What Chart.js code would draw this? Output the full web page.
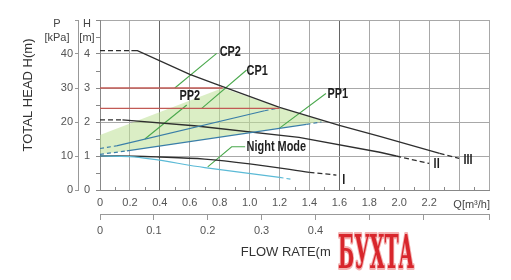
<!DOCTYPE html>
<html><head><meta charset="utf-8">
<script src="https://cdn.jsdelivr.net/npm/chart.js@4.4.1/dist/chart.umd.min.js"></script>
<style>html,body{margin:0;padding:0;background:#fff;}canvas{display:block;}</style>
</head><body>
<canvas id="c" width="511" height="280"></canvas>
<script>
// ---- data (Q in m3/h, H in m) ----
const curveIIIdashStart = [[0,4.1],[0.21,4.1]];
const curveIII = [[0.21,4.1],[0.25,4.1],[0.6,3.4],[0.77,3.12],[1.2,2.43],[1.6,1.9],[1.87,1.58],[2.27,1.08]];
const curveIIIdashEnd = [[2.27,1.08],[2.4,0.93]];
const curveIIdashStart = [[0,2.06],[0.15,2.06]];
const curveII = [[0.15,2.06],[0.63,1.89],[1.33,1.55],[1.87,1.11],[1.98,1.0]];
const curveIIdashEnd = [[1.98,1.0],[2.2,0.78]];
const curveI = [[0,1.0],[0.12,1.0],[0.4,0.97],[0.7,0.91],[1.0,0.77],[1.4,0.52]];
const curveIdashEnd = [[1.4,0.52],[1.58,0.44]];
const nightMode = [[0,1.0],[0.2,0.98],[0.7,0.66],[1.2,0.37]];
const nightModeDashEnd = [[1.2,0.37],[1.29,0.31]];
const pp2DashStart = [[0,1.22],[0.11,1.3]];
const pp2 = [[0.11,1.3],[1.1,2.33]];
const pp2DashEnd = [[1.1,2.33],[1.2,2.42]];
const pp1DashStart = [[0,1.05],[0.18,1.15]];
const pp1 = [[0.18,1.15],[1.38,1.93]];
const pp1DashEnd = [[1.38,1.93],[1.48,2.0]];
const cp2 = [[0,3.0],[0.82,3.0]];
const cp1 = [[0,2.4],[1.2,2.4]];
const ppZone = [[0,1.62],[0.82,3.0],[1.2,2.43],[1.5,2.02],[0.18,1.15],[0,1.05]];
// leader lines from labels to curves
const leaderCP2 = [[0.78,4.02],[0.5,3.0]];
const leaderCP1 = [[0.98,3.53],[0.68,2.4]];
const leaderPP2 = [[0.58,2.5],[0.3,1.5]];
const leaderPP1 = [[1.51,2.84],[1.2,1.82]];
const leaderNight = [[0.97,1.27],[0.88,1.27],[0.72,0.68]];
// labels: [text, Q, H, align]
const curveLabels = [["CP2",0.8,4.05,"left"],["CP1",0.98,3.5,"left"],["PP2",0.6,2.77,"center"],["PP1",1.52,2.82,"left"],["Night Mode",0.98,1.26,"left"],["I",1.63,0.29,"center"],["II",2.25,0.77,"center"],["III",2.46,0.88,"center"]];
// axis ranges / ticks
const qMax = 2.6, hMax = 5, pMax = 50;
const qLabelMax = 2.2, lsLabelMax = 0.4;

const pts = a => a.map(p => ({x:p[0], y:p[1]}));
const C = {black:'#2e2e2e', red:'#c25a55', blue:'#3a7ea8', cyan:'#5bbad6', green:'#4aa84c'};
function ln(data, color, width, dash, order, smooth){
  const d = {data:pts(data), borderColor:color, borderWidth:width, borderDash:dash||[], pointRadius:0, fill:false, tension:0, order:order||1};
  if (smooth) d.cubicInterpolationMode = 'monotone';
  return d;
}
const datasets = [
  {data:pts(ppZone), borderWidth:0, pointRadius:0, fill:'shape', backgroundColor:'rgba(190,224,150,0.55)', order:10},
  ln(cp2, C.red, 1.3), ln(cp1, C.red, 1.3),
  ln(pp2DashStart, C.blue, 1.2, [4,3]), ln(pp2, C.blue, 1.2), ln(pp2DashEnd, C.blue, 1.2, [4,3]),
  ln(pp1DashStart, C.blue, 1.2, [4,3]), ln(pp1, C.blue, 1.2), ln(pp1DashEnd, C.blue, 1.2, [4,3]),
  ln(nightMode, C.cyan, 1.2, [], 1, true), ln(nightModeDashEnd, C.cyan, 1.2, [4,3]),
  ln(curveIIIdashStart, C.black, 1.3, [5,3]), ln(curveIII, C.black, 1.3), ln(curveIIIdashEnd, C.black, 1.3, [5,3]),
  ln(curveIIdashStart, C.black, 1.3, [5,3]), ln(curveII, C.black, 1.3), ln(curveIIdashEnd, C.black, 1.3, [5,3]),
  ln(curveI, C.black, 1.3, [], 1, true), ln(curveIdashEnd, C.black, 1.3, [5,3]),
  ln(leaderCP2, C.green, 1.1, [], 0), ln(leaderCP1, C.green, 1.1, [], 0), ln(leaderPP2, C.green, 1.1, [], 0),
  ln(leaderPP1, C.green, 1.1, [], 0), ln(leaderNight, C.green, 1.1, [], 0)
];

const near = (v, t) => Math.abs(v - t) < 1e-6;
const tickFont = {family:'"Liberation Sans", Arial, sans-serif', size:11};
const tickCol = '#555';

const extras = {
  id:'extras',
  afterDraw(chart){
    const ctx = chart.ctx, xs = chart.scales.x, ys = chart.scales.y, ca = chart.chartArea;
    ctx.save();
    // minor ticks at 0.1 on Q axis
    ctx.strokeStyle = '#888'; ctx.lineWidth = 1;
    for (let i = 1; i < 26; i += 2){
      const px = Math.round(xs.getPixelForValue(i/10)) + 0.5;
      ctx.beginPath(); ctx.moveTo(px, ca.bottom); ctx.lineTo(px, ca.bottom - 3); ctx.stroke();
    }
    // header texts
    ctx.fillStyle = '#444'; ctx.font = '11px "Liberation Sans", Arial, sans-serif';
    ctx.textAlign = 'center'; ctx.textBaseline = 'middle';
    ctx.fillText('P', 57, 24); ctx.fillText('[kPa]', 57, 38);
    ctx.fillText('H', 87, 24); ctx.fillText('[m]', 87, 38);
    // Q unit label
    ctx.textAlign = 'right';
    ctx.fillText('Q[m³/h]', ca.right + 1, 205);
    // axis titles
    ctx.fillStyle = '#333'; ctx.font = '13px "Liberation Sans", Arial, sans-serif';
    ctx.textAlign = 'center';
    ctx.fillText('FLOW RATE(m³/h)', (ca.left + ca.right) / 2 + 1, 252);
    ctx.save(); ctx.translate(28, 95); ctx.rotate(-Math.PI/2);
    ctx.fillText('TOTAL HEAD H(m)', 0, 0); ctx.restore();
    // curve labels (condensed bold)
    ctx.fillStyle = '#1e1e1e';
    ctx.font = 'bold 14px "Liberation Sans", Arial, sans-serif';
    const sx = 0.78;
    curveLabels.forEach(l => {
      const px = xs.getPixelForValue(l[1]), py = ys.getPixelForValue(l[2]);
      ctx.save(); ctx.translate(px, py); ctx.scale(sx, 1);
      ctx.textAlign = l[3]; ctx.fillText(l[0], 0, 0); ctx.restore();
    });
    // watermark
    ctx.fillStyle = '#fff'; ctx.fillRect(331, 232, 85, 40);
    ctx.font = 'bold 46px "DejaVu Serif", serif';
    const w = ctx.measureText('БУХТА').width;
    ctx.translate(338, 268); ctx.scale(76 / w, 1);
    ctx.textAlign = 'left'; ctx.textBaseline = 'alphabetic';
    ctx.lineJoin = 'round';
    ctx.strokeStyle = '#f3b0b0'; ctx.lineWidth = 4; ctx.strokeText('БУХТА', 0, 0);
    ctx.fillStyle = '#d8262c'; ctx.fillText('БУХТА', 0, 0);
    ctx.restore();
  }
};

new Chart(document.getElementById('c'), {
  type:'line',
  data:{datasets},
  options:{
    responsive:false, animation:false, devicePixelRatio:1,
    layout:{padding:{top:20, right:22, left:0, bottom:0}},
    plugins:{legend:{display:false}, tooltip:{enabled:false}},
    scales:{
      x:{type:'linear', position:'bottom', weight:0, min:0, max:qMax,
        ticks:{stepSize:0.2, autoSkip:false, maxRotation:0, padding:6, color:tickCol, font:tickFont,
          callback:v => v > qLabelMax + 1e-6 ? '' : (near(v,0) ? '0' : v.toFixed(1))},
        grid:{color:c => (near(c.tick.value,0.4)||near(c.tick.value,1.6)) ? '#666' : '#a8a8a8', tickLength:0, lineWidth:1},
        border:{display:true, color:'#888'},
        afterFit:s => { s.height = 24; }},
      x2:{type:'linear', position:'bottom', weight:1, min:0, max:qMax/3.6,
        ticks:{stepSize:0.1, autoSkip:false, maxRotation:0, padding:4, color:tickCol, font:tickFont,
          callback:v => v > lsLabelMax + 1e-6 ? '' : (near(v,0) ? '0' : v.toFixed(1))},
        grid:{drawOnChartArea:false, tickLength:6, color:'#999'},
        border:{display:true, color:'#999'},
        afterFit:s => { s.height = 66; }},
      y:{type:'linear', position:'left', weight:0, min:0, max:hMax,
        ticks:{stepSize:0.5, autoSkip:false, padding:6, color:tickCol, font:tickFont,
          callback:v => (Number.isInteger(v) && v < hMax) ? String(v) : ''},
        grid:{color:c => Number.isInteger(c.tick.value) ? '#a8a8a8' : 'rgba(0,0,0,0)', tickColor:'#888', tickLength:4},
        border:{display:true, color:'#888'},
        afterFit:s => { s.width = 22; }},
      y2:{type:'linear', position:'left', weight:1, min:0, max:pMax,
        ticks:{stepSize:10, autoSkip:false, padding:2, color:tickCol, font:tickFont,
          callback:v => v < pMax ? String(v) : ''},
        grid:{drawOnChartArea:false, tickLength:3, color:'#999'},
        border:{display:true, color:'#999'},
        afterFit:s => { s.width = 78; }}
    }
  },
  plugins:[extras]
});
</script>
</body></html>
